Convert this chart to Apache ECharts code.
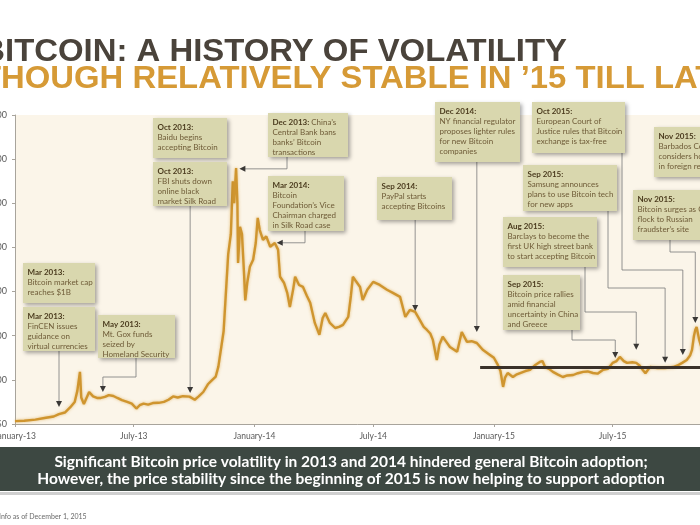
<!DOCTYPE html>
<html><head><meta charset="utf-8">
<script src="https://cdn.jsdelivr.net/npm/echarts@6/dist/echarts.min.js"></script>
<style>html,body{margin:0;padding:0;background:#fff}#c{width:700px;height:525px}</style>
</head><body><div id="c"></div>
<script>
// ---------------- data ----------------
const dates = ['2013-01-01','2013-01-15','2013-02-01','2013-02-15','2013-03-01','2013-03-09','2013-03-18','2013-03-26','2013-04-02','2013-04-06','2013-04-10','2013-04-12','2013-04-16','2013-04-20','2013-04-24','2013-04-30','2013-05-06','2013-05-12','2013-05-18','2013-05-24','2013-05-31','2013-06-06','2013-06-13','2013-06-21','2013-06-28','2013-07-05','2013-07-10','2013-07-16','2013-07-23','2013-07-30','2013-08-08','2013-08-16','2013-08-23','2013-08-30','2013-09-06','2013-09-14','2013-09-24','2013-10-02','2013-10-08','2013-10-15','2013-10-22','2013-10-28','2013-11-03','2013-11-07','2013-11-11','2013-11-15','2013-11-19','2013-11-22','2013-11-26','2013-11-29','2013-12-01','2013-12-04','2013-12-06','2013-12-07','2013-12-10','2013-12-13','2013-12-16','2013-12-18','2013-12-21','2013-12-25','2013-12-30','2014-01-03','2014-01-06','2014-01-09','2014-01-14','2014-01-19','2014-01-25','2014-02-01','2014-02-06','2014-02-09','2014-02-15','2014-02-20','2014-02-24','2014-03-01','2014-03-04','2014-03-10','2014-03-16','2014-03-22','2014-03-27','2014-04-03','2014-04-10','2014-04-15','2014-04-19','2014-04-26','2014-05-04','2014-05-10','2014-05-16','2014-05-24','2014-05-28','2014-05-31','2014-06-04','2014-06-11','2014-06-15','2014-06-22','2014-07-01','2014-07-11','2014-07-22','2014-07-31','2014-08-11','2014-08-19','2014-08-26','2014-09-03','2014-09-10','2014-09-16','2014-09-21','2014-09-26','2014-09-30','2014-10-06','2014-10-10','2014-10-15','2014-10-21','2014-10-26','2014-11-06','2014-11-13','2014-11-21','2014-11-28','2014-12-06','2014-12-15','2014-12-26','2015-01-01','2015-01-07','2015-01-11','2015-01-15','2015-01-18','2015-01-22','2015-01-30','2015-02-05','2015-02-10','2015-02-18','2015-02-25','2015-03-04','2015-03-12','2015-03-16','2015-03-20','2015-03-26','2015-04-01','2015-04-08','2015-04-16','2015-04-23','2015-05-02','2015-05-09','2015-05-17','2015-05-24','2015-06-01','2015-06-08','2015-06-16','2015-06-24','2015-07-01','2015-07-07','2015-07-12','2015-07-18','2015-07-23','2015-07-31','2015-08-06','2015-08-11','2015-08-16','2015-08-20','2015-08-27','2015-09-07','2015-09-19','2015-10-01','2015-10-08','2015-10-15','2015-10-22','2015-10-27','2015-10-30','2015-11-02','2015-11-04','2015-11-06','2015-11-10','2015-11-15','2015-11-20','2015-11-25','2015-12-01'];
const prices = [13,15,20,27,34,45,52,75,100,150,236,120,90,118,145,125,118,118,123,131,127,118,108,100,92,70,85,92,88,95,96,100,110,125,120,126,124,110,125,145,180,198,215,260,340,420,620,770,860,1100,1000,1160,1000,730,893,860,690,560,640,712,744,820,934,880,834,850,803,820,790,667,640,594,530,610,667,630,621,580,549,458,404,480,503,458,435,440,449,485,580,667,650,621,562,608,644,630,608,594,576,485,517,508,472,440,426,410,381,290,360,395,370,349,327,417,372,375,367,336,313,300,268,240,168,210,231,213,225,231,240,245,265,281,285,258,250,236,225,213,220,222,230,236,238,231,228,245,250,277,285,304,285,277,280,277,265,245,230,258,254,254,258,265,277,290,310,336,400,426,440,381,330,325,360,365];
const yTickLabels = ['$0','$200','$400','$600','$800','$1,000','$1,200','$1,400'];
const xTickLabels = ['January-13','July-13','January-14','July-14','January-15','July-15'];
const stableStart = '2014-12-11', stableEnd = '2015-12-01', stableLevel = 256;

const titleLine1 = 'BITCOIN: A HISTORY OF VOLATILITY';
const titleLine2 = 'THOUGH RELATIVELY STABLE IN \u201915 TILL LATE';
const bannerLines = ['Significant Bitcoin price volatility in 2013 and 2014 hindered general Bitcoin adoption;',
                     'However, the price stability since the beginning of 2015 is now helping to support adoption'];
const footnote = 'Info as of December 1, 2015';

const notes = [
  {title:'Mar 2013:', lines:['Bitcoin market cap','reaches $1B']},
  {title:'Mar 2013:', lines:['FinCEN issues','guidance on','virtual currencies'], target:['2013-03-09',77]},
  {title:'May 2013:', lines:['Mt. Gox funds','seized by','Homeland Security'], target:['2013-05-15',145]},
  {title:'Oct 2013:', lines:['Baidu begins','accepting Bitcoin']},
  {title:'Oct 2013:', lines:['FBI shuts down','online black','market Silk Road'], target:['2013-09-25',141]},
  {title:'Dec 2013:', rest:' China\u2019s', lines:['Central Bank bans','banks\u2019 Bitcoin','transactions'], target:['2013-12-09',1156]},
  {title:'Mar 2014:', lines:['Bitcoin','Foundation\u2019s Vice','Chairman charged','in Silk Road case'], target:['2014-02-04',821]},
  {title:'Sep 2014:', lines:['PayPal starts','accepting Bitcoins'], target:['2014-09-03',512]},
  {title:'Dec 2014:', lines:['NY financial regulator','proposes lighter rules','for new Bitcoin','companies'], target:['2014-12-06',417]},
  {title:'Oct 2015:', lines:['European Court of','Justice rules that Bitcoin','exchange is tax-free'], target:['2015-10-16',313]},
  {title:'Sep 2015:', lines:['Samsung announces','plans to use Bitcoin tech','for new apps'], target:['2015-09-19',277]},
  {title:'Aug 2015:', lines:['Barclays to become the','first UK high street bank','to start accepting Bitcoin'], target:['2015-08-06',336]},
  {title:'Sep 2015:', lines:['Bitcoin price rallies','amid financial','uncertainty in China','and Greece'], target:['2015-07-05',299]},
  {title:'Nov 2015:', lines:['Barbados Central Bank','considers holding Bitcoin','in foreign reserves']},
  {title:'Nov 2015:', lines:['Bitcoin surges as Chinese','flock to Russian','fraudster\u2019s site'], target:['2015-11-04',458]}
];
// ---------------- layout (pixels) ----------------
const noteLayout = [
  {box:[23,263,72,40]},
  {box:[23,307,72,44], kind:'down', ax:59},
  {box:[98,315,77,43], kind:'elbow', ax:136, ey:377},
  {box:[153,118,74,40]},
  {box:[153,162,74,44], kind:'down'},
  {box:[268,113,80,44], kind:'side', ax:287},
  {box:[268,176,76,55], kind:'side', ax:305},
  {box:[377,177,75,43], kind:'down'},
  {box:[435,102,85,60], kind:'down'},
  {box:[532,102,93,51], kind:'elbow', ax:622, ey:270},
  {box:[523,165,94,46], kind:'elbow', ax:608, ey:288},
  {box:[503,217,94,50], kind:'elbow', ax:585, ey:312},
  {box:[503,275,77,55], kind:'elbow', ax:572, ey:340},
  {box:[654,127,95,50]},
  {box:[633,190,92,50], kind:'elbow', ax:670, ey:252}
];

const DAY = 86400000;
function ts(s){const p=s.split('-').map(Number);return new Date(p[0],p[1]-1,p[2]).getTime();}
const MONTHS = ['January','February','March','April','May','June','July','August','September','October','November','December'];
const FONT_BODY = 'Lato, "Noto Sans", sans-serif';

const chart = echarts.init(document.getElementById('c'), null, {renderer:'canvas'});
chart.setOption({
  animation:false,
  backgroundColor:'#ffffff',
  grid:{left:15, right:-13, top:115, bottom:101, show:true, backgroundColor:'#FBF5E9', borderWidth:0, containLabel:false, outerBoundsMode:'none'},
  xAxis:{
    type:'time', min:ts('2013-01-01'), max:ts('2015-12-01'),
    minInterval:183*DAY, maxInterval:183*DAY,
    splitLine:{show:false},
    axisLine:{lineStyle:{color:'#A8A49C', width:1}},
    axisTick:{show:true, length:3, lineStyle:{color:'#A8A49C'}},
    axisLabel:{color:'#5A5A5A', fontSize:8.5, fontFamily:FONT_BODY, margin:8, hideOverlap:false, showMinLabel:true,
      formatter:function(v){const d=new Date(v);const s=MONTHS[d.getMonth()]+'-'+String(d.getFullYear()).slice(2);return xTickLabels.indexOf(s)>=0?s:'';}}
  },
  yAxis:{
    type:'value', min:0, max:1400, interval:200,
    splitLine:{show:false},
    axisLine:{show:true, lineStyle:{color:'#A8A49C'}},
    axisTick:{show:true, length:3, lineStyle:{color:'#A8A49C'}},
    axisLabel:{color:'#5A5A5A', fontSize:9, fontFamily:FONT_BODY, margin:8,
      formatter:function(v){return yTickLabels[Math.round(v/200)]||'';}}
  },
  series:[{
    type:'line', showSymbol:false, symbol:'none',
    data: dates.map((d,i)=>[ts(d), prices[i]]),
    lineStyle:{color:'#CF952F', width:2.4, shadowColor:'rgba(222,175,90,0.8)', shadowBlur:3},
    markLine:{silent:true, symbol:['none','none'], label:{show:false}, animation:false,
      lineStyle:{color:'#3A3129', width:3, type:'solid'},
      data:[[{coord:[ts(stableStart), stableLevel]},{coord:[ts(stableEnd), stableLevel]}]]}
  }]
});

// ---------------- graphics: titles, banner, notes ----------------
const mctx = document.createElement('canvas').getContext('2d');
function tw(text,font){mctx.font=font;return mctx.measureText(text).width;}
const g = [];

const TFONT = 'bold 32px "Liberation Sans", Arial, sans-serif';
{
  const wB = tw('B',TFONT), wAll = tw(titleLine1,TFONT);
  const s = (567-5)/(wAll-wB);
  g.push({type:'text', x:5-wB*s, y:52, scaleX:s, z:20, style:{text:titleLine1, font:TFONT, fill:'#4A433B', verticalAlign:'middle', align:'left'}});
}
{
  const wT = tw('T',TFONT), wTo = tw('THOUGH RELATIVELY STABLE IN \u201915 TILL L',TFONT);
  const s = (674-1)/(wTo-wT);
  g.push({type:'text', x:1-wT*s, y:79.5, scaleX:s, z:20, style:{text:titleLine2, font:TFONT, fill:'#D69A36', verticalAlign:'middle', align:'left'}});
}

// banner
g.push({type:'rect', shape:{x:0,y:447,width:700,height:44}, style:{fill:'#3D4842'}, z:5});
g.push({type:'rect', shape:{x:0,y:492,width:700,height:3}, style:{fill:'#CFCFCF'}, z:5});
{
  const bf = n => 'bold '+n+'px Lato, "Open Sans", sans-serif';
  const size = 100*628/tw(bannerLines[1], bf(100));
  g.push({type:'text', x:351, y:462, z:20, style:{text:bannerLines[0], font:bf(size.toFixed(2)), fill:'#ffffff', align:'center', verticalAlign:'middle'}});
  g.push({type:'text', x:351, y:479.5, z:20, style:{text:bannerLines[1], font:bf(size.toFixed(2)), fill:'#ffffff', align:'center', verticalAlign:'middle'}});
}
g.push({type:'text', x:-1, y:517, z:20, style:{text:footnote, font:'7px Lato, sans-serif', fill:'#6A6A6A', verticalAlign:'middle', align:'left'}});

// notes
notes.forEach((n,i)=>{
  const L = noteLayout[i]; const [bx,by,bw,bh] = L.box;
  g.push({type:'rect', shape:{x:bx,y:by,width:bw,height:bh}, z:12,
    style:{fill:'#D9D7AE', shadowBlur:4, shadowColor:'rgba(0,0,0,0.35)', shadowOffsetX:1.5, shadowOffsetY:2}});
  let txt = '{t|'+n.title+'}' + (n.rest?'{b|'+n.rest+'}':'') + n.lines.map(l=>'\n{b|'+l+'}').join('');
  g.push({type:'text', x:bx+4.5, y:by+4, z:13, style:{text:txt, verticalAlign:'top', align:'left',
    rich:{t:{fontFamily:FONT_BODY, fontWeight:'bold', fontSize:8, fill:'#4B3B1E', lineHeight:10},
          b:{fontFamily:FONT_BODY, fontSize:8, fill:'#6E5B37', lineHeight:10}}}});
  if(!n.target) return;
  const p = chart.convertToPixel({xAxisIndex:0,yAxisIndex:0},[ts(n.target[0]), n.target[1]]);
  const tx=p[0], ty=p[1], bot=by+bh;
  let pts, arrow;
  if(L.kind==='down'){
    const ax = L.ax!==undefined?L.ax:tx;
    pts=[[ax,bot],[ax,ty-5]]; arrow=[[ax-3,ty-6],[ax+3,ty-6],[ax,ty]];
  } else if(L.kind==='elbow'){
    pts=[[L.ax,bot],[L.ax,L.ey],[tx,L.ey],[tx,ty-5]]; arrow=[[tx-3,ty-6],[tx+3,ty-6],[tx,ty]];
  } else {
    pts=[[L.ax,bot],[L.ax,ty],[tx+5,ty]]; arrow=[[tx,ty],[tx+6,ty-3],[tx+6,ty+3]];
  }
  g.push({type:'polyline', shape:{points:pts}, z:11, style:{stroke:'#7A7A7A', lineWidth:0.8, fill:null}});
  g.push({type:'polygon', shape:{points:arrow}, z:11, style:{fill:'#3A3836'}});
});
chart.setOption({graphic:g});
</script></body></html>
